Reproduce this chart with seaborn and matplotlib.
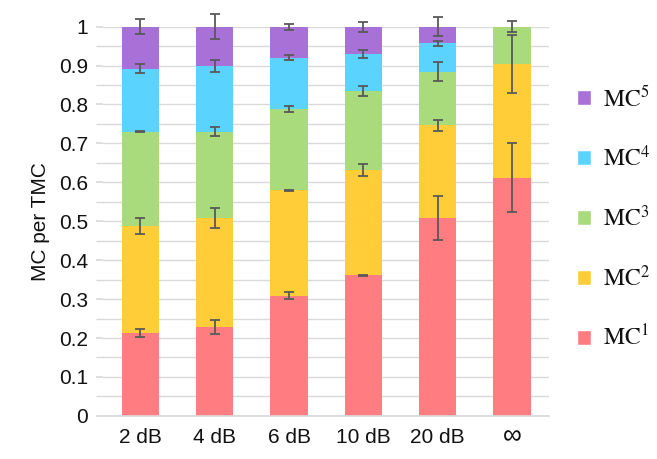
import numpy as np
import pandas as pd
import matplotlib
matplotlib.use('Agg')
import matplotlib.pyplot as plt
import seaborn as sns
from matplotlib.patches import Patch

# data (fractions of TMC, stacked bottom to top)
categories = ['2 dB', '4 dB', '6 dB', '10 dB', '20 dB', '\u221e']
mc1 = [0.212, 0.228, 0.309, 0.361, 0.509, 0.612]
mc2 = [0.276, 0.280, 0.270, 0.271, 0.237, 0.292]
mc3 = [0.242, 0.222, 0.210, 0.203, 0.138, 0.096]
mc4 = [0.162, 0.169, 0.131, 0.095, 0.073, 0.000]
mc5 = [0.108, 0.101, 0.080, 0.070, 0.043, 0.000]

# error bar half widths at the top of each segment
err1 = [0.010, 0.018, 0.009, 0.002, 0.056, 0.089]
err2 = [0.021, 0.025, 0.002, 0.016, 0.015, 0.075]
err3 = [0.002, 0.011, 0.008, 0.013, 0.024, 0.014]
err4 = [0.012, 0.015, 0.006, 0.011, 0.006, 0.000]
err5 = [0.020, 0.033, 0.008, 0.013, 0.024, 0.000]

series_names = ['MC1', 'MC2', 'MC3', 'MC4', 'MC5']
legend_labels = [r'$\mathrm{MC}^{1}$', r'$\mathrm{MC}^{2}$', r'$\mathrm{MC}^{3}$',
                 r'$\mathrm{MC}^{4}$', r'$\mathrm{MC}^{5}$']
colors = ['#FF7C80', '#FFCD38', '#A9DA7C', '#5AD3FF', '#A771D8']
ytick_vals = [0, 0.1, 0.2, 0.3, 0.4, 0.5, 0.6, 0.7, 0.8, 0.9, 1.0]
ytick_labels = ['0', '0.1', '0.2', '0.3', '0.4', '0.5', '0.6', '0.7', '0.8', '0.9', '1']

sns.set_theme(style='white')
plt.rcParams['font.family'] = ['Liberation Sans', 'DejaVu Sans']
plt.rcParams['mathtext.fontset'] = 'stix'
plt.rcParams['text.color'] = '#111111'
plt.rcParams['axes.labelcolor'] = '#111111'
plt.rcParams['xtick.labelcolor'] = '#111111'
plt.rcParams['ytick.labelcolor'] = '#111111'

df = pd.DataFrame({'cat': categories, 'MC1': mc1, 'MC2': mc2, 'MC3': mc3,
                   'MC4': mc4, 'MC5': mc5})
cum = df[series_names].cumsum(axis=1)
errs = [err1, err2, err3, err4, err5]

fig = plt.figure(figsize=(6.57, 4.59), dpi=100)
ax = fig.add_axes([0.157, 0.094, 0.679, 0.848])

# draw from the top layer down so each cumulative bar hides the part below
for i in range(4, -1, -1):
    sns.barplot(x=df['cat'], y=cum[series_names[i]], color=colors[i],
                width=0.5, ax=ax, saturation=1, linewidth=0, zorder=2)

grey = '#595959'
for i in range(5):
    seg = df[series_names[i]].values
    mask = seg > 0
    xs = np.arange(len(categories))[mask]
    ax.errorbar(xs, cum[series_names[i]].values[mask], yerr=np.array(errs[i])[mask],
                fmt='none', ecolor=grey, elinewidth=1.3, capsize=3.5,
                capthick=1.3, zorder=5, clip_on=False)

ax.set_xlim(-0.5, 5.5)
ax.set_ylim(0, 1)
ax.set_yticks(ytick_vals)
ax.set_yticklabels(ytick_labels, fontsize=15)
ax.set_yticks(np.arange(0.05, 1.0, 0.1), minor=True)
ax.grid(True, axis='y', which='both', color='#D9D9D9', lw=1, zorder=0)
ax.set_axisbelow(True)
ax.tick_params(axis='y', which='both', left=True, length=5, color='#D9D9D9',
               pad=6)
ax.tick_params(axis='x', length=0, labelsize=15, pad=9)
for lab in ax.get_xticklabels():
    if lab.get_text() == '\u221e':
        lab.set_fontsize(19)
        lab.set_y(0.01)
ax.set_xlabel('')
ax.set_ylabel('MC per TMC', fontsize=15, labelpad=6)
for s in ['top', 'right', 'left']:
    ax.spines[s].set_visible(False)
ax.spines['bottom'].set_color('#D9D9D9')

handles = [Patch(facecolor=colors[i], label=legend_labels[i]) for i in range(4, -1, -1)]
fig.legend(handles=handles, loc='center left', bbox_to_anchor=(0.878, 0.525),
           frameon=False, fontsize=17, handlelength=0.6, handleheight=0.6,
           handletextpad=0.5, labelspacing=1.45, borderpad=0, borderaxespad=0)

fig.savefig('out.png', dpi=100)
